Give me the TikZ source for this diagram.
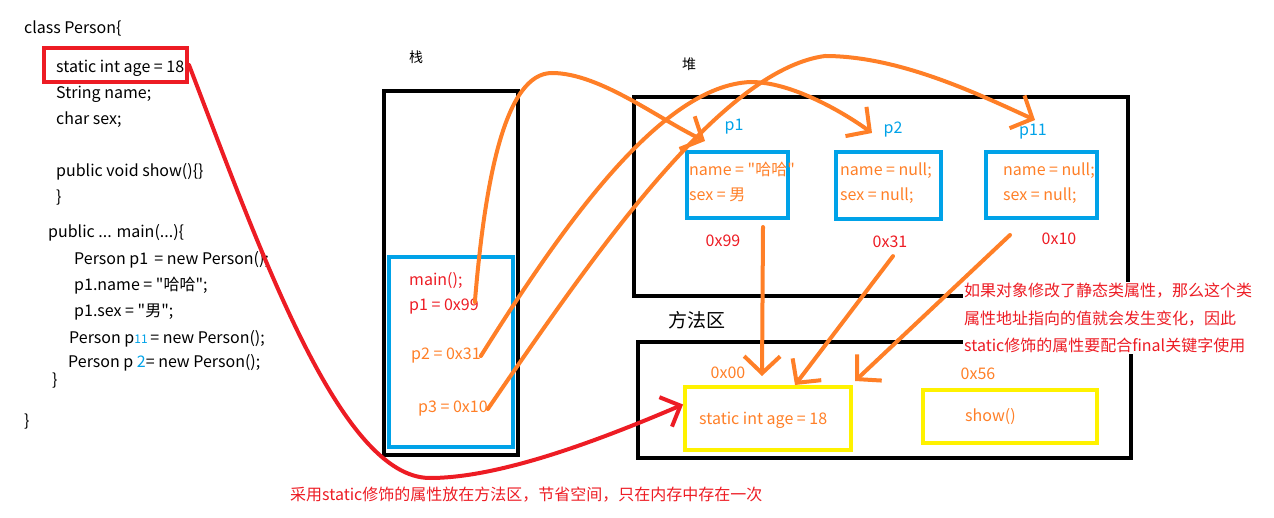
\documentclass[tikz,border=0pt]{standalone}
\usepackage{fontspec}
\setmainfont{Noto Sans CJK SC}[Ligatures=TeXOff]
\usepackage{xcolor}
\usepackage{tikz}
\usetikzlibrary{arrows.meta}
\definecolor{refOrange}{HTML}{FF7F27}
\definecolor{refRed}{HTML}{ED1C24}
\definecolor{refBlue}{HTML}{00A2E8}
\definecolor{refYellow}{HTML}{FFF200}

\begin{document}
\begin{tikzpicture}[x=1pt, y=-1pt,
    every node/.style={font=\fontsize{16}{19}\selectfont, inner sep=0pt},
    code/.style={anchor=west},
    fields/.style={anchor=west, align=left, text=refOrange, font=\fontsize{16}{25}\selectfont},
    area/.style={draw, line width=4.5pt},
    objbox/.style={draw=refBlue, line width=4pt},
    methbox/.style={draw=refYellow, line width=4pt},
    ptr/.style={draw=refOrange, line width=4pt, line cap=round, -{Straight Barb[length=17pt,width=36pt]}},
    statarrow/.style={draw=refRed, line width=4pt, line cap=round, -{Straight Barb[length=16pt,width=32pt]}}]
    \useasboundingbox (0,0) rectangle (1274,518);
    % the class source
    \node[code] (c1) at (24,28) {class Person\{};
    \node[draw=refRed, line width=4pt, minimum width=143pt, minimum height=34pt] (agebox) at (115.5,65) {};
    \node[code] (c2) at (56,68) {static int age = 18};
    \node[code] (c3) at (56,94) {String name;};
    \node[code] (c4) at (56,120) {char sex;};
    \node[code] (c5) at (56,172) {public void show()\{\}};
    \node[code] (c6) at (56,198) {\}};
    \node[code] (c7) at (48,233) {public ... main(...)\{};
    \node[code] (c8) at (74,260) {Person p1 \,= new Person();};
    \node[code] (c9) at (74,286) {p1.name = "哈哈";};
    \node[code] (c10) at (74,312) {p1.sex = "男";};
    \node[code] (c11) at (69,339) {Person p{\color{refBlue}\fontsize{12}{12}\selectfont 11}\,= new Person();};
    \node[code] (c12) at (68,363) {Person p {\color{refBlue}2}= new Person();};
    \node[code] (c13) at (52,381) {\}};
    \node[code] (c14) at (24,422) {\}};
    % stack
    \node[font=\fontsize{14}{14}\selectfont] (stacklbl) at (416,57) {栈};
    \node[area, minimum width=134pt, minimum height=364pt] (stack) at (451,273) {};
    \node[objbox, minimum width=124pt, minimum height=190pt] (frame) at (451,352) {};
    \node[code, text=refRed] (s0) at (409,281) {main();};
    \node[code, text=refRed] (s1) at (409,307) {p1 = 0x99};
    \node[code, text=refOrange] (s2) at (411,356) {p2 = 0x31};
    \node[code, text=refOrange] (s3) at (418,409) {p3 = 0x10};
    % heap
    \node[font=\fontsize{14}{14}\selectfont] (heaplbl) at (689,64) {堆};
    \node[area, minimum width=494pt, minimum height=199pt] (heap) at (881,196.5) {};
    \node[objbox, minimum width=101pt, minimum height=66pt] (obj1) at (737.5,185) {};
    \node[objbox, minimum width=105pt, minimum height=67pt] (obj2) at (888.5,185.5) {};
    \node[objbox, minimum width=111pt, minimum height=66pt] (obj3) at (1041.5,185) {};
    \node[text=refBlue] (lp1) at (734,127) {p1};
    \node[text=refBlue] (lp2) at (893,130) {p2};
    \node[text=refBlue] (lp3) at (1033,132) {p11};
    \node[fields] (f1) at (689,181.5) {name = "哈哈"\\sex = 男};
    \node[fields] (f2) at (840,183.5) {name = null;\\sex = null;};
    \node[fields] (f3) at (1003,183) {name = null;\\sex = null;};
    \node[text=refRed] (h1) at (723,241) {0x99};
    \node[text=refRed] (h2) at (890,242) {0x31};
    \node[text=refRed] (h3) at (1059,239) {0x10};
    % method area
    \node[font=\fontsize{19}{19}\selectfont] (methlbl) at (697,320) {方法区};
    \node[area, minimum width=493pt, minimum height=116pt] (method) at (884.5,400) {};
    \node[methbox, minimum width=166pt, minimum height=63pt] (statbox) at (768,418.5) {};
    \node[methbox, minimum width=174pt, minimum height=53pt] (showbox) at (1010,416.5) {};
    \node[text=refOrange] (m1) at (728,373) {0x00};
    \node[text=refOrange] (m2) at (978,374) {0x56};
    \node[code, text=refOrange] (mt1) at (699,420) {static int age = 18};
    \node[code, text=refOrange] (mt2) at (965,417) {show()};
    % notes
    \node[anchor=north west, align=left, text=refRed, fill=white, inner sep=1pt,
        font=\fontsize{16}{27.5}\selectfont] (note) at (963,282)
        {如果对象修改了静态类属性，那么这个类\\属性地址指向的值就会发生变化，因此\\static修饰的属性要配合final关键字使用};
    \node[anchor=west, text=refRed] (tip) at (290,495) {采用static修饰的属性放在方法区，节省空间，只在内存中存在一次};
    % references
    \draw[ptr] ([xshift=-4pt,yshift=5pt]s1.east) .. controls (485,180) and (505,73) .. (552,73)
        .. controls (600,73) and (660,120) .. ([xshift=20pt,yshift=9pt]obj1.north west);
    \draw[ptr] (s2.east) .. controls (560,230) and (660,85) .. (751,82)
        .. controls (790,82) and (840,110) .. ([xshift=38pt,yshift=17pt]obj2.north west);
    \draw[ptr] (s3.east) .. controls (590,260) and (720,70) .. (825,56)
        .. controls (900,56) and (980,95) .. ([xshift=51pt,yshift=30pt]obj3.north west);
    \draw[ptr] ([xshift=25.5pt,yshift=-7pt]obj1.south) -- ([xshift=-6pt,yshift=9pt]statbox.north);
    \draw[ptr] ([xshift=3pt,yshift=-8pt]h2.south) -- ([xshift=27pt]statbox.north);
    \draw[ptr] ([xshift=-31.5pt,yshift=-15pt]obj3.south) -- ([xshift=2pt,yshift=4pt]statbox.north east);
    \draw[statarrow] (agebox.east) .. controls (260,250) and (340,478) .. (430,478)
        .. controls (500,478) and (600,440) .. ([yshift=14pt]statbox.west);
\end{tikzpicture}
\end{document}
